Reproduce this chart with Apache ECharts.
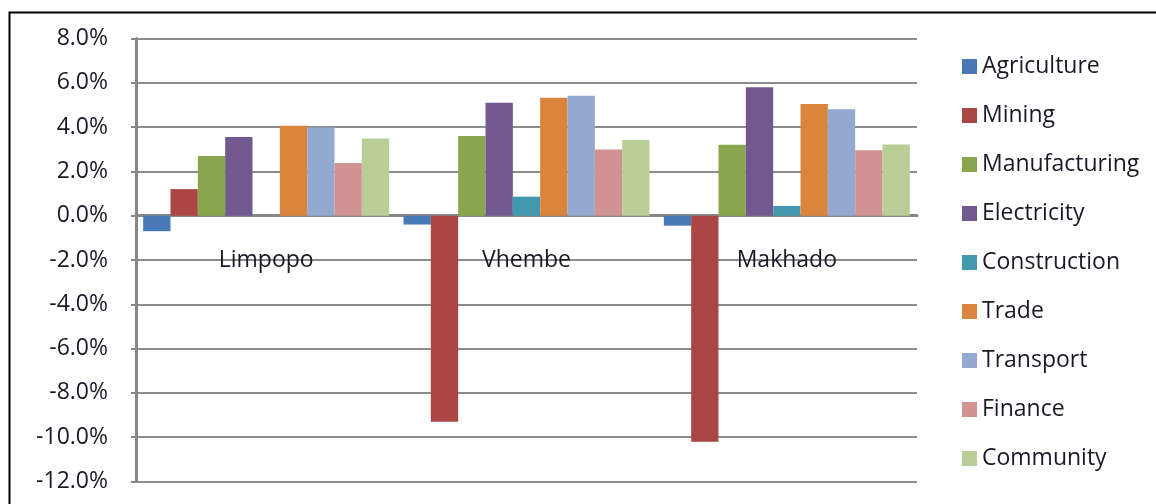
<!DOCTYPE html>
<html>
<head>
<meta charset="utf-8">
<script src="https://cdn.jsdelivr.net/npm/echarts@6/dist/echarts.min.js"></script>
<style>
html,body{margin:0;padding:0;background:#fff;}
#c{width:1156px;height:504px;}
</style>
</head>
<body>
<div id="c"></div>
<script>
const categories = ['Limpopo', 'Vhembe', 'Makhado'];
const seriesNames = ['Agriculture','Mining','Manufacturing','Electricity','Construction','Trade','Transport','Finance','Community'];
const agriculture   = [-0.7, -0.4, -0.45];
const mining        = [1.2, -9.3, -10.2];
const manufacturing = [2.7, 3.6, 3.2];
const electricity   = [3.55, 5.1, 5.8];
const construction  = [0.0, 0.86, 0.44];
const trade         = [4.06, 5.32, 5.04];
const transport     = [3.98, 5.41, 4.81];
const finance       = [2.38, 2.99, 2.96];
const community     = [3.48, 3.42, 3.21];
const yTicks = {min: -12, max: 8, interval: 2};

const values = [agriculture, mining, manufacturing, electricity, construction, trade, transport, finance, community];
const colors = ['#4A7AB5','#AA4643','#89A54E','#71588F','#4198AF','#DB843D','#93A9CF','#D19392','#B9CD96'];
const font = '"Open Sans", "Noto Sans", sans-serif';
const txt = '#1a1a26';

const chart = echarts.init(document.getElementById('c'), null, {renderer: 'canvas'});
chart.setOption({
  animation: false,
  backgroundColor: '#fff',
  color: colors,
  graphic: [{
    type: 'rect', left: 7, top: 10, z: 100, silent: true,
    shape: {x: 0, y: 0, width: 1200, height: 600},
    style: {fill: 'none', stroke: '#000', lineWidth: 2}
  }],
  grid: {left: 136, right: 239, top: 38.5, bottom: 22.5, containLabel: false, outerBoundsMode: 'none'},
  legend: {
    orient: 'vertical', left: 957, top: 46,
    itemWidth: 15, itemHeight: 15, itemGap: 18,
    icon: 'rect',
    textStyle: {fontFamily: font, fontSize: 23, color: txt, lineHeight: 31},
    data: seriesNames
  },
  xAxis: {
    type: 'category', data: categories,
    axisLine: {onZero: true, lineStyle: {color: '#878787', width: 3}},
    axisTick: {show: false},
    axisLabel: {fontFamily: font, fontSize: 23, color: txt, margin: -233, hideOverlap: false}
  },
  yAxis: {
    type: 'value', min: yTicks.min, max: yTicks.max, interval: yTicks.interval,
    axisLine: {show: true, lineStyle: {color: '#878787', width: 3}},
    axisTick: {show: true, length: 5, lineStyle: {color: '#878787', width: 2}},
    splitLine: {lineStyle: {color: '#8c8c8c', width: 2}},
    axisLabel: {fontFamily: font, fontSize: 23, color: txt, margin: 28,
      formatter: v => v.toFixed(1) + '%'}
  },
  series: seriesNames.map((n, i) => ({
    name: n, type: 'bar', data: values[i],
    barGap: '0%', barCategoryGap: '5.5%',
    itemStyle: {color: colors[i]}
  }))
});
</script>
</body>
</html>
